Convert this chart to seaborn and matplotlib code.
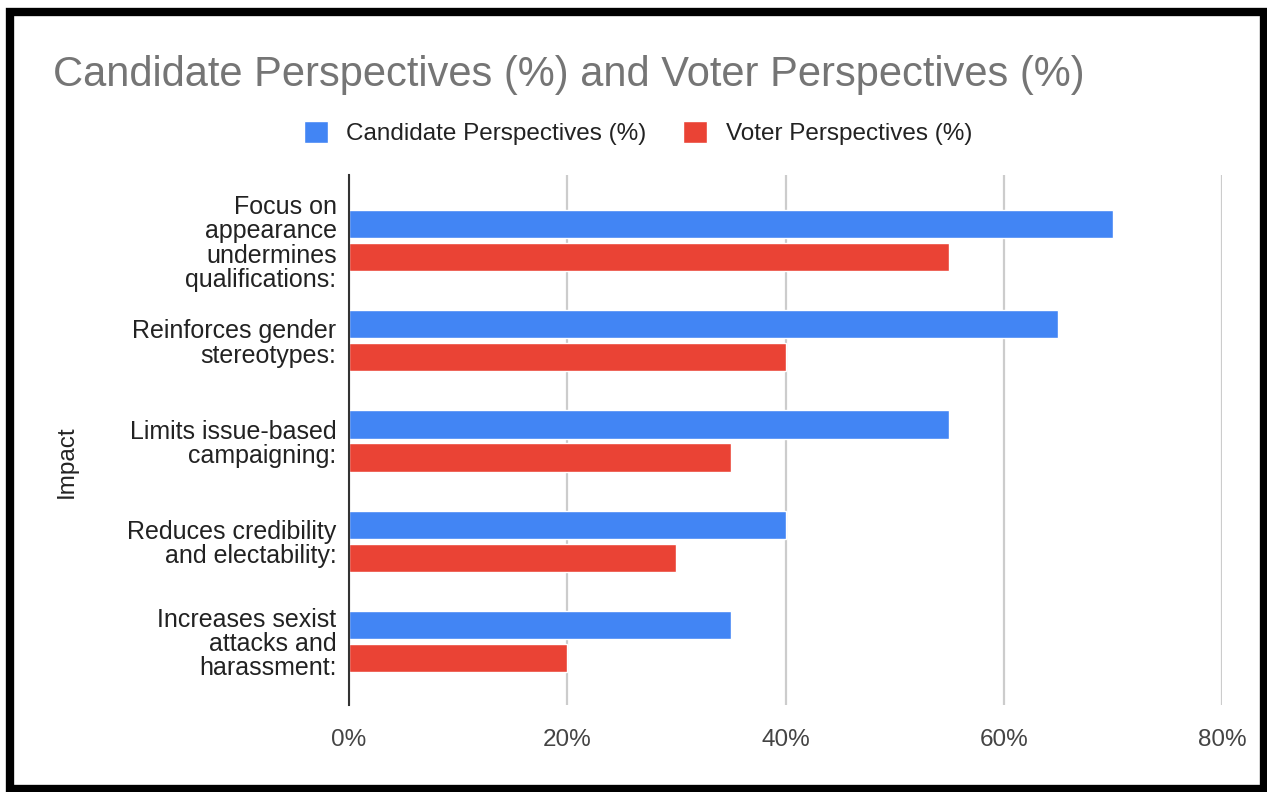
import pandas as pd
import matplotlib.pyplot as plt
import matplotlib.patches as mpatches
import seaborn as sns

impacts = [
    'Focus on\nappearance\nundermines\nqualifications:',
    'Reinforces gender\nstereotypes:',
    'Limits issue-based\ncampaigning:',
    'Reduces credibility\nand electability:',
    'Increases sexist\nattacks and\nharassment:',
]
candidate_pct = [70, 65, 55, 40, 35]
voter_pct = [55, 40, 35, 30, 20]
series_names = ['Candidate Perspectives (%)', 'Voter Perspectives (%)']
x_ticks = [0, 20, 40, 60, 80]
x_tick_labels = ['0%', '20%', '40%', '60%', '80%']

sns.set_style('white')
plt.rcParams['font.family'] = ['Liberation Sans', 'DejaVu Sans']

# long form table for seaborn
df = pd.DataFrame({
    'Impact': impacts * 2,
    'Value': candidate_pct + voter_pct,
    'Series': [series_names[0]] * len(impacts) + [series_names[1]] * len(impacts),
})

fig = plt.figure(figsize=(12.67, 7.92), dpi=100, facecolor='white')
ax = fig.add_axes([0.2755, 0.1098, 0.689, 0.669])

sns.barplot(data=df, y='Impact', x='Value', hue='Series', orient='h',
            palette=['#4285F4', '#EA4335'], width=0.66, gap=0.15,
            saturation=1, ax=ax)

handles, labels = ax.get_legend_handles_labels()
if ax.get_legend() is not None:
    ax.get_legend().remove()

ax.set_xlim(0, 80)
ax.set_ylim(4.636, -0.654)
ax.set_xticks(x_ticks)
ax.set_xticklabels(x_tick_labels)
ax.tick_params(axis='x', length=0, pad=17, labelsize=17.5, labelcolor='#444444')
ax.tick_params(axis='y', length=0, pad=9, labelsize=18, labelcolor='#222222')
for t in ax.get_yticklabels():
    t.set_linespacing(1.02)

ax.xaxis.grid(True, color='#cccccc', lw=1.6)
ax.yaxis.grid(False)
ax.set_axisbelow(True)
for s in ['top', 'right', 'bottom']:
    ax.spines[s].set_visible(False)
ax.spines['left'].set_color('#333333')
ax.spines['left'].set_linewidth(1.5)
ax.spines['left'].set_zorder(5)

ax.set_xlabel('')
ax.set_ylabel('Impact', fontsize=17.5, color='#222222')
ax.yaxis.set_label_coords(-0.311, 0.46)

fig.text(53 / 1267, 1 - 75 / 792, 'Candidate Perspectives (%) and Voter Perspectives (%)',
         fontsize=30, color='#757575', va='center', ha='left')

fig.legend(handles, labels, loc='center', bbox_to_anchor=(638 / 1267, 1 - 133 / 792),
           ncol=2, frameon=False, handlelength=1.0, handleheight=1.0,
           handletextpad=0.75, columnspacing=1.5, fontsize=17.5,
           labelcolor='#222222')

# black frame around the whole picture
frame = mpatches.Rectangle((10 / 1267, 3 / 792), 1254 / 1267, 777 / 792,
                           transform=fig.transFigure, fill=False,
                           edgecolor='black', lw=6, zorder=10)
fig.patches.append(frame)

fig.savefig('out.png', dpi=100, facecolor='white')
